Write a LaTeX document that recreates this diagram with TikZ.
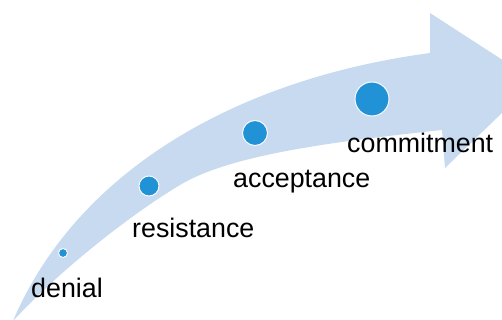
\documentclass[tikz,border=0pt]{standalone}
\usepackage{fontspec}
\setmainfont{Liberation Sans}
\definecolor{arrowblue}{RGB}{199,218,239}
\definecolor{dotblue}{RGB}{32,146,213}
\begin{document}
\begin{tikzpicture}[x=1pt,y=-1pt,
  dot/.style={circle,fill=dotblue,draw=white!90!arrowblue,line width=1pt,inner sep=0pt,minimum size=#1},
  label/.style={anchor=base west,inner sep=0pt,font=\fontsize{26.8}{30}\selectfont,text=black}]
\useasboundingbox (0,0) rectangle (502,320);
\begin{scope}
\clip (0,0) rectangle (502,320);
\fill[arrowblue] (13,321) .. controls (75,175) and (230,80) .. (430,53)
  -- (430,13) -- (535,81) -- (445,168) -- (442,130)
  .. controls (330,142) and (230,155) .. (180,185)
  .. controls (130,215) and (60,270) .. (13,321) -- cycle;
\end{scope}
\node[dot=9pt] (d1) at (63,253) {};
\node[dot=20pt] (d2) at (149,186) {};
\node[dot=25pt] (d3) at (255,133) {};
\node[dot=34pt] (d4) at (372,99) {};
\node[label] (t1) at (31,297) {denial};
\node[label] (t2) at (132,237) {resistance};
\node[label] (t3) at (233,187) {acceptance};
\node[label] (t4) at (347,153) {commitment};
\end{tikzpicture}
\end{document}
